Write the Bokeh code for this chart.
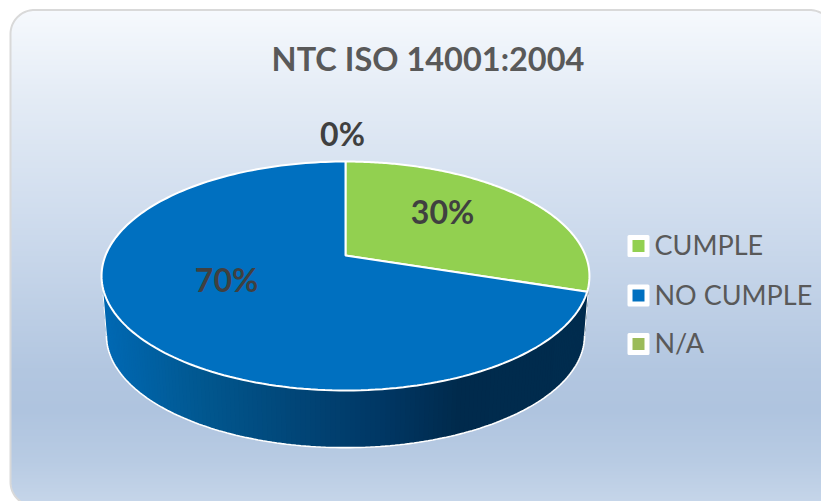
import numpy as np
from bokeh.core.properties import value
from bokeh.embed import file_html
from bokeh.models import Range1d
from bokeh.plotting import figure
from bokeh.resources import INLINE

TITLE = "NTC ISO 14001:2004"
categories = ["CUMPLE", "NO CUMPLE", "N/A"]
values = [30, 70, 0]
colors = ["#92D050", "#0070C0", "#9BBB59"]
FONT = "Lato"

W, H = 821, 501
p = figure(width=W, height=H, output_backend="svg", toolbar_location=None,
           x_range=Range1d(0, 821), y_range=Range1d(501, 0),
           min_border=0, outline_line_color=None, background_fill_color="white",
           border_fill_color="white")
p.axis.visible = False
p.grid.visible = False


def hex2rgb(h):
    return np.array([int(h[i:i + 2], 16) for i in (1, 3, 5)], dtype=float)


def ramp(pos, stops):
    xs = [s[0] for s in stops]
    cs = np.array([hex2rgb(s[1]) for s in stops])
    rgb = [np.interp(pos, xs, cs[:, k]) for k in range(3)]
    return "#%02x%02x%02x" % tuple(int(round(c)) for c in rgb)


# card
L, T, R, B, RAD = 10.0, 9.5, 833.0, 505.5, 24.0
bg_stops = [(9, "#f6f9fd"), (100, "#e3ebf5"), (210, "#d0ddee"), (370, "#b2c6e0"),
            (410, "#afc4df"), (460, "#b8cbe3"), (501, "#c5d5e9")]


def inset(y):
    d = 0.0
    if y < T + RAD:
        d = RAD - np.sqrt(max(RAD ** 2 - (T + RAD - y) ** 2, 0))
    elif y > B - RAD:
        d = RAD - np.sqrt(max(RAD ** 2 - (y - (B - RAD)) ** 2, 0))
    return d


rows = np.arange(T, 501.0)
p.quad(left=[L + inset(y + .5) for y in rows], right=[R - inset(y + .5) for y in rows],
       top=list(rows), bottom=list(rows + 1),
       fill_color=[ramp(y, bg_stops) for y in rows], line_color=None)

th = np.linspace(0, np.pi / 2, 24)
bx = np.r_[L + RAD - RAD * np.cos(th), R - RAD + RAD * np.sin(th),
           R - RAD + RAD * np.cos(th), L + RAD - RAD * np.sin(th), L]
by = np.r_[T + RAD - RAD * np.sin(th), T + RAD - RAD * np.cos(th),
           B - RAD + RAD * np.sin(th), B - RAD + RAD * np.cos(th), T + RAD]
p.line(bx, by, line_color="#d9d9d9", line_width=2)

# perspective pie
CX, CY, A, BB, K = 345.0, 255.0, 240.0, 110.8, 0.179
MIDY, DROP, SC = 275.5, 59.5, 0.98


def top_pt(t):
    w = 1 + K * np.sin(t)
    return CX + A * np.cos(t) / w, CY - BB * np.sin(t) / w


def bot_pt(t):
    x, y = top_pt(t)
    return CX + SC * (x - CX), MIDY + DROP + SC * (y - MIDY)


side_stops = [(105, "#0068b2"), (200, "#01578f"), (290, "#014678"), (380, "#003764"),
              (457, "#002a4c"), (585, "#002c4e")]
tan_l = np.pi + np.arcsin(K)
tan_r = 2 * np.pi - np.arcsin(K)
ts = np.linspace(tan_l, tan_r, 161)
sx, sy, sc = [], [], []
for i in range(len(ts) - 1):
    seg = ts[i:i + 4]
    xa, ya = top_pt(seg)
    xb, yb = bot_pt(seg[::-1])
    sx.append(np.r_[xa, xb])
    sy.append(np.r_[ya, yb])
    sc.append(ramp(top_pt(ts[i])[0], side_stops))
p.patches(sx, sy, fill_color=sc, line_color=None)

gx, gy = bot_pt(ts)
p.line(gx, gy, line_color="white", line_width=1.6)
ex0, ey0 = top_pt(tan_l), bot_pt(tan_l)
ex1, ey1 = top_pt(tan_r), bot_pt(tan_r)
p.line([ex0[0], ey0[0]], [ex0[1], ey0[1]], line_color="white", line_width=1)
p.line([ex1[0], ey1[0]], [ex1[1], ey1[1]], line_color="white", line_width=1)

total = float(sum(values))
start = 0.0
for val, col in zip(values, colors):
    if val > 0:
        stop = start + val / total
        angs = np.pi / 2 - 2 * np.pi * np.linspace(start, stop, 180)
        ex, ey = top_pt(angs)
        p.patch(np.r_[CX, ex, CX], np.r_[CY, ey, CY], fill_color=col,
                line_color="white", line_width=2)
    start += val / total

# data labels
lab_x = [442, 226, 342]
lab_y = [211, 279, 132.5]
for x, y, val in zip(lab_x, lab_y, values):
    p.text([x], [y], text=["%d%%" % val], text_font=value(FONT), text_font_style="bold",
           text_font_size="32px", text_color="#404040", text_align="center",
           text_baseline="middle")

p.text([427.5], [57.5], text=[TITLE], text_font=value(FONT), text_font_style="bold",
       text_font_size="32.5px", text_color="#595959", text_align="center",
       text_baseline="middle")

# legend
leg_y = [245.5, 295, 343.5]
p.scatter([638] * 3, leg_y, marker="square", size=19, fill_color="white",
          line_color="white", line_width=3, line_join="round")
p.scatter([638] * 3, leg_y, marker="square", size=12, fill_color=colors, line_color=None)
p.text([654] * 3, [y - 1.5 for y in leg_y], text=categories, text_font=value(FONT),
       text_font_size="27px", text_color="#595959", text_align="left",
       text_baseline="middle")

open("out.html", "w").write(file_html(p, INLINE))
